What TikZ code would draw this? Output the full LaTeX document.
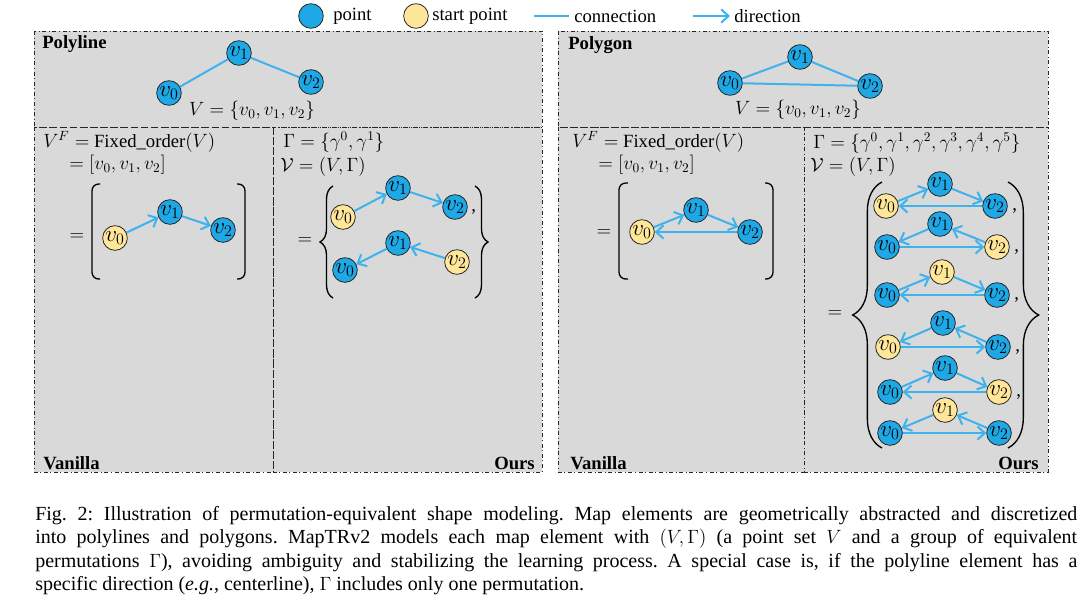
\documentclass[tikz,border=0pt]{standalone}
\usepackage{fontspec}
\setmainfont{Liberation Serif}
\usetikzlibrary{arrows.meta,decorations.pathreplacing}

\definecolor{ptblue}{HTML}{1FA8E6}
\definecolor{ptyellow}{HTML}{FFE699}
\definecolor{lnblue}{HTML}{3DB2EC}
\definecolor{panelgray}{HTML}{D9D9D9}

\tikzset{
  pt/.style={circle,minimum size=18.5pt,inner sep=0pt,fill=ptblue,draw=black!85,
             line width=0.6pt,font=\fontsize{16.5}{18}\selectfont},
  spt/.style={pt,fill=ptyellow},
  conn/.style={draw=lnblue,line width=1.5pt},
  dirarrow/.style={conn,-{Straight Barb[length=5.5pt,width=10pt,line width=1.5pt]}},
  frame/.style={draw=black!85,line width=0.6pt,dash dot},
  txt/.style={inner sep=0pt,font=\fontsize{14}{17}\selectfont},
  ttl/.style={inner sep=0pt,font=\fontsize{14}{17}\selectfont\bfseries},
  bracebig/.style={decorate,decoration={brace,amplitude=#1},line width=1pt},
  bracket/.style={line width=1pt,rounded corners=5pt},
}

\begin{document}
\begin{tikzpicture}[x=0.75pt,y=-0.75pt]
\useasboundingbox (0,0) rectangle (1080,601);

% ---------- legend ----------
\node[pt] (lgp) at (311,16) {};
\node[txt,anchor=west] (lgpt) at (333,16) {point};
\node[spt] (lgs) at (416,16) {};
\node[txt,anchor=west] (lgst) at (432,16) {start point};
\coordinate (lgc1) at (534,16); \coordinate (lgc2) at (569,16);
\draw[conn] (lgc1) -- (lgc2);
\node[txt,anchor=west] (lgct) at (574,16) {connection};
\coordinate (lgd1) at (693,16); \coordinate (lgd2) at (730,16);
\draw[dirarrow] (lgd1) -- (lgd2);
\node[txt,anchor=west] (lgdt) at (734,16) {direction};

% ---------- panels ----------
\fill[panelgray] (34,31) rectangle (542,472);
\fill[panelgray] (558,31) rectangle (1048,472);
\draw[frame] (34,31) rectangle (542,127);
\draw[frame] (34,127) rectangle (273,472);
\draw[frame] (273,127) rectangle (542,472);
\draw[frame] (558,31) rectangle (1048,127);
\draw[frame] (558,127) rectangle (804,472);
\draw[frame] (804,127) rectangle (1048,472);

% ---------- polyline: point set ----------
\node[ttl,anchor=west] (tpl) at (42,44) {Polyline};
\node[pt] (a0) at (169,93) {$v_0$};
\node[pt] (a1) at (239,53) {$v_1$};
\node[pt] (a2) at (311,82) {$v_2$};
\draw[conn] (a0) -- (a1);
\draw[conn] (a1) -- (a2);
\node[txt] (aset) at (252,111) {$V=\{v_0,v_1,v_2\}$};

% ---------- polyline: vanilla ----------
\node[txt,anchor=west] (pve1) at (43,142) {$V^F=$ Fixed\_order$(V)$};
\node[txt,anchor=west] (pve2) at (69,165) {$=[v_0,v_1,v_2]$};
\node[txt] (pveq) at (77,237) {$=$};
\draw[bracket] (100,184) -| (92,279) -- (100,279);
\draw[bracket] (237,184) -| (245,279) -- (237,279);
\node[spt] (b0) at (115,238) {$v_0$};
\node[pt] (b1) at (170,212) {$v_1$};
\node[pt] (b2) at (223,230) {$v_2$};
\draw[dirarrow] (b0) -- (b1);
\draw[dirarrow] (b1) -- (b2);
\node[ttl,anchor=west] (pvl) at (43,463) {Vanilla};

% ---------- polyline: ours ----------
\node[txt,anchor=west] (poe1) at (283,142) {$\Gamma=\{\gamma^0,\gamma^1\}$};
\node[txt,anchor=west] (poe2) at (280,167) {$\mathcal{V}=(V,\Gamma)$};
\node[txt] (poeq) at (305,241) {$=$};
\draw[bracebig=9.75pt] (333,298) -- (333,186);
\draw[bracebig=9.75pt] (475,186) -- (475,298);
\node[spt] (c0) at (343,217) {$v_0$};
\node[pt] (c1) at (398,188) {$v_1$};
\node[pt] (c2) at (455,207) {$v_2$};
\node[txt,anchor=west] (ccm) at (471,212) {,};
\draw[dirarrow] (c0) -- (c1);
\draw[dirarrow] (c1) -- (c2);
\node[pt] (d0) at (345,270) {$v_0$};
\node[pt] (d1) at (398,243) {$v_1$};
\node[spt] (d2) at (457,262) {$v_2$};
\draw[dirarrow] (d2) -- (d1);
\draw[dirarrow] (d1) -- (d0);
\node[ttl,anchor=east] (pol) at (535,463) {Ours};

% ---------- polygon: point set ----------
\node[ttl,anchor=west] (tpg) at (568,45) {Polygon};
\node[pt] (e0) at (730,83) {$v_0$};
\node[pt] (e1) at (800,57) {$v_1$};
\node[pt] (e2) at (870,86) {$v_2$};
\draw[conn] (e0) -- (e1);
\draw[conn] (e1) -- (e2);
\draw[conn] (e0) -- (e2);
\node[txt] (eset) at (798,110) {$V=\{v_0,v_1,v_2\}$};

% ---------- polygon: vanilla ----------
\node[txt,anchor=west] (gve1) at (572,142) {$V^F=$ Fixed\_order$(V)$};
\node[txt,anchor=west] (gve2) at (598,165) {$=[v_0,v_1,v_2]$};
\node[txt] (gveq) at (604,233) {$=$};
\draw[bracket] (628,183) -| (619,279) -- (628,279);
\draw[bracket] (765,183) -| (773,279) -- (765,279);
\node[spt] (f0) at (642,232) {$v_0$};
\node[pt] (f1) at (696,210) {$v_1$};
\node[pt] (f2) at (750,232) {$v_2$};
\draw[dirarrow] (f0) -- (f1);
\draw[dirarrow] (f1) -- (f2);
\draw[dirarrow] (f2) -- (f0);
\node[ttl,anchor=west] (gvl) at (570,463) {Vanilla};

% ---------- polygon: ours ----------
\node[txt,anchor=west] (goe1) at (813,143) {$\Gamma=\{\gamma^0,\gamma^1,\gamma^2,\gamma^3,\gamma^4,\gamma^5\}$};
\node[txt,anchor=west] (goe2) at (810,167) {$\mathcal{V}=(V,\Gamma)$};
\node[txt] (goeq) at (835,314) {$=$};
\draw[bracebig=22pt] (882,448) -- (882,182);
\draw[bracebig=23pt] (1008,182) -- (1008,448);

% row 1: start v0, forward cycle
\node[spt] (g10) at (886,206) {$v_0$};
\node[pt]  (g11) at (940,184) {$v_1$};
\node[pt]  (g12) at (995,206) {$v_2$};
\draw[dirarrow] (g10) -- (g11);
\draw[dirarrow] (g11) -- (g12);
\draw[dirarrow] (g12) -- (g10);
\node[txt,anchor=west] (g1c) at (1012,211) {,};
% row 2: start v2, backward cycle
\node[pt]  (g20) at (887,247) {$v_0$};
\node[pt]  (g21) at (940,224) {$v_1$};
\node[spt] (g22) at (997,247) {$v_2$};
\draw[dirarrow] (g22) -- (g21);
\draw[dirarrow] (g21) -- (g20);
\draw[dirarrow] (g20) -- (g22);
\node[txt,anchor=west] (g2c) at (1014,252) {,};
% row 3: start v1, forward cycle
\node[pt]  (g30) at (887,295) {$v_0$};
\node[spt] (g31) at (942,272) {$v_1$};
\node[pt]  (g32) at (997,295) {$v_2$};
\draw[dirarrow] (g30) -- (g31);
\draw[dirarrow] (g31) -- (g32);
\draw[dirarrow] (g32) -- (g30);
\node[txt,anchor=west] (g3c) at (1014,300) {,};
% row 4: start v0, backward cycle
\node[spt] (g40) at (888,347) {$v_0$};
\node[pt]  (g41) at (943,323) {$v_1$};
\node[pt]  (g42) at (998,347) {$v_2$};
\draw[dirarrow] (g42) -- (g41);
\draw[dirarrow] (g41) -- (g40);
\draw[dirarrow] (g40) -- (g42);
\node[txt,anchor=west] (g4c) at (1015,352) {,};
% row 5: start v2, forward cycle
\node[pt]  (g50) at (890,392) {$v_0$};
\node[pt]  (g51) at (945,368) {$v_1$};
\node[spt] (g52) at (999,392) {$v_2$};
\draw[dirarrow] (g50) -- (g51);
\draw[dirarrow] (g51) -- (g52);
\draw[dirarrow] (g52) -- (g50);
\node[txt,anchor=west] (g5c) at (1016,397) {,};
% row 6: start v1, backward cycle
\node[pt]  (g60) at (890,433) {$v_0$};
\node[spt] (g61) at (945,410) {$v_1$};
\node[pt]  (g62) at (999,433) {$v_2$};
\draw[dirarrow] (g62) -- (g61);
\draw[dirarrow] (g61) -- (g60);
\draw[dirarrow] (g60) -- (g62);
\node[ttl,anchor=east] (gol) at (1039,463) {Ours};

% ---------- caption ----------
\node[anchor=north west,inner sep=0pt,text width=781.5pt,align=justify,
      font=\fontsize{15}{17.5}\selectfont\frenchspacing] (cap) at (35,506)
 {Fig.~2: Illustration of permutation-equivalent shape modeling. Map elements are geometrically abstracted and discretized\linebreak
  into polylines and polygons. MapTRv2 models each map element with $(V,\Gamma)$ (a point set $V$ and a group of equivalent\linebreak
  permutations $\Gamma$), avoiding ambiguity and stabilizing the learning process. A special case is, if the polyline element has a\linebreak
  specific direction (\textit{e.g.}, centerline), $\Gamma$ includes only one permutation.};
\end{tikzpicture}
\end{document}
